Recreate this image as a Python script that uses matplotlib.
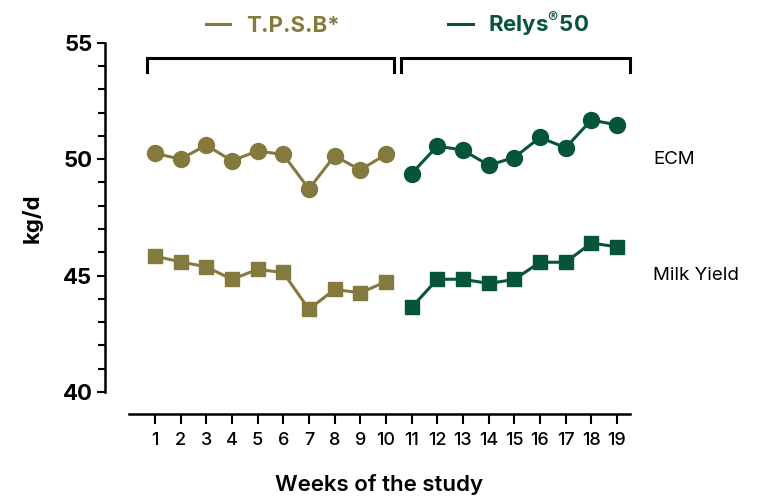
#-------------------------------------------------------------------------------
# ECM and milk yield per week: T.P.S.B* (weeks 1-10) vs Relys®50 (weeks 11-19)
#-------------------------------------------------------------------------------

import matplotlib.pyplot as plt
from matplotlib.lines import Line2D
from matplotlib.ticker import MultipleLocator

plt.rcParams['font.family'] = ['Inter', 'DejaVu Sans']

# Datos
weeks_tpsb = [1, 2, 3, 4, 5, 6, 7, 8, 9, 10]
weeks_relys = [11, 12, 13, 14, 15, 16, 17, 18, 19]
ecm_tpsb = [50.25, 50.0, 50.6, 49.93, 50.35, 50.2, 48.72, 50.14, 49.54, 50.2]
ecm_relys = [49.38, 50.56, 50.39, 49.74, 50.07, 50.93, 50.49, 51.68, 51.47]
milk_tpsb = [45.83, 45.59, 45.37, 44.84, 45.26, 45.13, 43.55, 44.4, 44.26, 44.73]
milk_relys = [43.63, 44.84, 44.84, 44.66, 44.83, 45.57, 45.57, 46.4, 46.23]
series_names = ['T.P.S.B*', r'Relys$^{\mathregular{®}}$50']
row_labels = ['ECM', 'Milk Yield']

olive = '#857A3E'
green = '#06553A'

fig = plt.figure(figsize=(7.69, 4.99), dpi=100)
ax = fig.add_axes([0.168, 0.1703, 0.651, 0.758])

# Lineas
ax.plot(weeks_tpsb, ecm_tpsb, color=olive, lw=2.2, marker='o', ms=11.5, clip_on=False)
ax.plot(weeks_relys, ecm_relys, color=green, lw=2.2, marker='o', ms=11.5, clip_on=False)
ax.plot(weeks_tpsb, milk_tpsb, color=olive, lw=2.2, marker='s', ms=10.5, clip_on=False)
ax.plot(weeks_relys, milk_relys, color=green, lw=2.2, marker='s', ms=10.5, clip_on=False)

ax.set_xlim(0, 19.5)
ax.set_ylim(39.05, 55.3)

# Ejes
ax.spines['top'].set_visible(False)
ax.spines['right'].set_visible(False)
ax.spines['left'].set_position(('axes', -0.0485))
ax.spines['left'].set_bounds(40, 55)
ax.spines['left'].set_linewidth(1.8)
ax.spines['bottom'].set_linewidth(1.8)

ax.set_xticks(weeks_tpsb + weeks_relys)
ax.set_yticks([40, 45, 50, 55])
ax.yaxis.set_minor_locator(MultipleLocator(1))
ax.tick_params(axis='x', length=7, width=1.5, pad=6, labelsize=13)
ax.tick_params(axis='y', which='major', length=6, width=1.5, pad=3, labelsize=16)
ax.tick_params(axis='y', which='minor', length=5, width=1.5)
for lab in ax.get_yticklabels():
    lab.set_fontweight('bold')
for lab in ax.get_xticklabels():
    lab.set_fontweight('medium')

ax.set_xlabel('Weeks of the study', fontsize=16, fontweight='semibold', labelpad=18)
ax.set_ylabel('kg/d', fontsize=16, fontweight='bold')
ax.yaxis.set_label_coords(-0.173, 0.518)

# Corchetes
top, bot = 54.35, 53.75
for x0, x1 in [(weeks_tpsb[0] - 0.3, weeks_tpsb[-1] + 0.3),
               (weeks_relys[0] - 0.4, weeks_relys[-1] + 0.5)]:
    ax.plot([x0, x0, x1, x1], [bot, top, top, bot], color='black', lw=2.2,
            solid_joinstyle='miter', clip_on=False)

# Etiquetas de filas
ax.text(20.4, 50.0, row_labels[0], fontsize=13.5, va='center', ha='left')
ax.text(20.4, 45.0, row_labels[1], fontsize=13.5, va='center', ha='left')

# Leyenda
handles = [Line2D([], [], color=olive, lw=2.2), Line2D([], [], color=green, lw=2.2)]
fig.legend(handles, series_names, loc='center', bbox_to_anchor=(0.517, 0.953),
           ncol=2, frameon=False, handlelength=1.1, handletextpad=0.7,
           columnspacing=4.9, labelcolor=[olive, green],
           prop={'weight': 'bold', 'size': 16})

plt.savefig('out.png', dpi=100)
